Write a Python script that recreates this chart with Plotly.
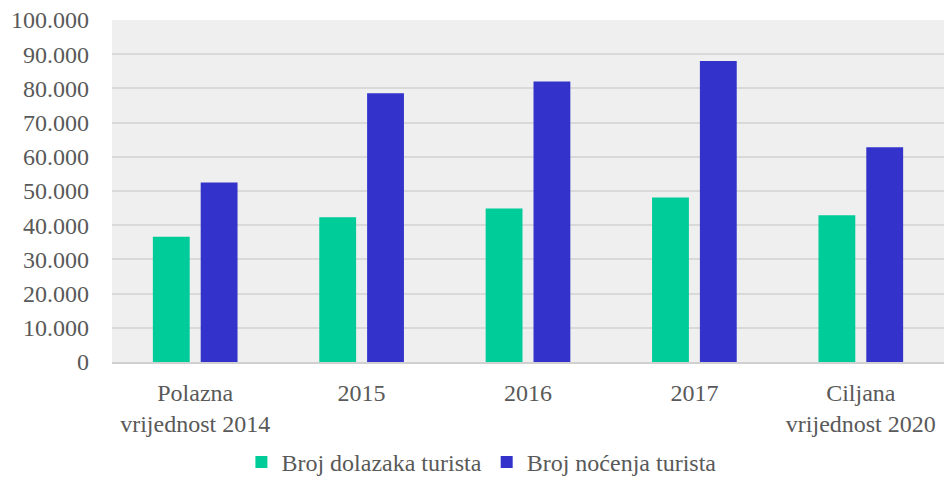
import plotly.graph_objects as go

categories = ["Polazna<br>vrijednost 2014", "2015", "2016", "2017", "Ciljana<br>vrijednost 2020"]
dolasci = [36600, 42300, 44900, 48100, 42900]
nocenja = [52500, 78600, 82000, 88000, 62800]
y_ticks = [0, 10000, 20000, 30000, 40000, 50000, 60000, 70000, 80000, 90000, 100000]
y_tick_labels = ["0", "10.000", "20.000", "30.000", "40.000", "50.000", "60.000",
                 "70.000", "80.000", "90.000", "100.000"]

font_family = "Liberation Serif, Times New Roman, serif"
text_color = "#595959"
fs = 24

fig = go.Figure()
fig.add_trace(go.Bar(x=categories, y=dolasci, name="Broj dolazaka turista",
                     marker=dict(color="#00CC99", line=dict(width=0))))
fig.add_trace(go.Bar(x=categories, y=nocenja, name="Broj noćenja turista",
                     marker=dict(color="#3333CC", line=dict(width=0))))

fig.update_layout(
    width=944, height=485,
    margin=dict(l=112, r=0, t=20, b=123),
    paper_bgcolor="#ffffff",
    plot_bgcolor="#efefef",
    barmode="group",
    bargap=0.425,
    bargroupgap=0.23,
    font=dict(family=font_family, size=fs, color=text_color),
    showlegend=True,
    legend=dict(orientation="h", x=0.444, xanchor="center",
                yref="container", y=-0.015, yanchor="bottom",
                font=dict(family=font_family, size=fs, color=text_color), itemwidth=30,
                traceorder="normal", bgcolor="rgba(0,0,0,0)"),
    xaxis=dict(showgrid=False, showline=True, linecolor="#d0d0d0", linewidth=1.5,
               ticks="", automargin=False,
               tickfont=dict(family=font_family, size=fs, color=text_color),
               ticklabelstandoff=8),
    yaxis=dict(range=[0, 100000], tickvals=y_ticks, ticktext=y_tick_labels,
               showgrid=True, gridcolor="#d9d9d9", gridwidth=1.5,
               zeroline=False, showline=False, ticks="", automargin=False,
               ticklabelstandoff=22,
               tickfont=dict(family=font_family, size=fs, color=text_color)),
)

fig.write_html("out.html", config={"displayModeBar": False},
               post_script="document.body.style.margin='0';document.body.style.overflow='hidden';")
